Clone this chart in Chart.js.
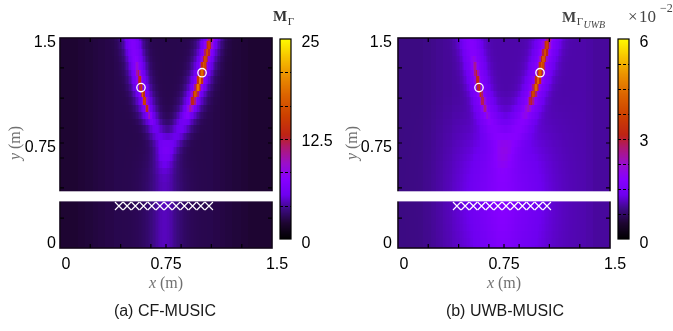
<!DOCTYPE html>
<html><head><meta charset="utf-8">
<script src="https://cdn.jsdelivr.net/npm/chart.js@4"></script>
<style>
html,body{margin:0;padding:0;background:#fff;}
#wrap{position:relative;width:673px;height:331px;overflow:hidden;background:#fff;}
#c1,#c2{position:absolute;top:0;}
#c1{left:0;} #c2{left:337px;}
</style></head><body>
<div id="wrap"><canvas id="c1" width="336" height="331"></canvas><canvas id="c2" width="336" height="331"></canvas></div>
<script>
// ---------- data ----------
const rowY = [1.5,1.45,1.4,1.35,1.3,1.25,1.2,1.15,1.1,1.05,1.0,0.95,0.9,0.85,0.8,0.75,0.7,0.65,0.6,0.55,0.5,0.45,0.4,0.35,0.3,0.25,0.2,0.15,0.1,0.05,0];
const colX = [0,0.05,0.1,0.15,0.2,0.25,0.3,0.35,0.4,0.45,0.5,0.55,0.6,0.65,0.7,0.75,0.8,0.85,0.9,0.95,1.0,1.05,1.1,1.15,1.2,1.25,1.3,1.35,1.4,1.45,1.5];
const axisTickLabels = [0, 0.75, 1.5];
const axisMinorTicks = [0.214, 0.429, 0.643, 0.857, 1.071, 1.286];
const beamLeftX  = [0.51,0.518,0.527,0.536,0.545,0.553,0.562,0.573,0.586,0.60,0.615,0.632,0.652,0.675,0.695,0.715,0.73,0.738,0.74,0.74,0.74,0.74,0.74,0.74,0.74,0.74,0.74,0.74,0.74,0.74,0.74];
const beamRightX = [1.065,1.053,1.041,1.029,1.017,1.005,0.99,0.975,0.958,0.942,0.922,0.90,0.877,0.853,0.828,0.80,0.775,0.755,0.745,0.74,0.74,0.74,0.74,0.74,0.74,0.74,0.74,0.74,0.74,0.74,0.74];
const wallBand = [0.333, 0.405];
const targetX = [0.573, 1.005];
const targetY = [1.146, 1.252];
const antennaX = [0.417,0.475,0.533,0.591,0.649,0.707,0.765,0.822,0.880,0.938,0.996,1.054];
const antennaY = [0.30,0.30,0.30,0.30,0.30,0.30,0.30,0.30,0.30,0.30,0.30,0.30];

// CF-MUSIC (colour scale 0..25)
const cfBackground = [2.0,2.0,2.0,2.1,2.2,2.3,2.4,2.5,2.6,2.6,2.6,2.6,2.6,2.6,2.6,2.6,2.6,2.6,2.6,2.6,2.6,2.6,2.5,2.4,2.3,2.2,2.1,2.0,2.0,2.0,2.0];
const cfLeftGlow  = [4.4,4.4,4.4,4.4,4.4,4.4,4.4,4.3,4.1,3.9,3.7,3.5,3.2,2.9,2.6,2.2,1.8,1.4,1.0,0.7,0.5,0.4,0.4,0.4,0.4,0.4,0.4,0.4,0.4,0.4,0.4];
const cfRightGlow = [4.6,4.6,4.6,4.6,4.6,4.6,4.6,4.5,4.3,4.1,3.9,3.7,3.4,3.1,2.7,2.3,1.9,1.4,1.0,0.7,0.5,0.4,0.4,0.4,0.4,0.4,0.4,0.4,0.4,0.4,0.4];
const cfLeftCore  = [0,0,0,0.5,2,5,7,8,11,10,7,4,1,0,0,0,0,0,0,0,0,0,0,0,0,0,0,0,0,0,0];
const cfRightCore = [5,8,9,9,10,11,13,12,10,7,4,1,0,0,0,0,0,0,0,0,0,0,0,0,0,0,0,0,0,0,0];
const cfCentreGlow = [0,0,0,0,0,0,0,0,0,0,0,0,0,0,0.1,0.3,0.5,0.7,0.9,1.1,1.2,1.3,1.3,1.3,1.3,1.3,1.3,1.3,1.3,1.3,1.3];
const cfBarTicks = [0, 12.5, 25];
const cfBarMinor = [4.17, 8.33, 12.5, 16.67, 20.83];

// UWB-MUSIC (colour scale 0..6, x10^-2)
const uwbBackground = [0.9,0.9,0.9,0.9,0.92,0.94,0.96,0.98,1.0,1.0,1.0,1.02,1.04,1.05,1.05,1.05,1.05,1.05,1.05,1.05,1.05,1.05,1.05,1.05,1.05,1.05,1.05,1.03,1.0,1.0,1.0];
const uwbLeftGlow  = [0.72,0.72,0.72,0.72,0.72,0.72,0.72,0.7,0.67,0.63,0.59,0.55,0.5,0.45,0.4,0.35,0.29,0.23,0.17,0.12,0.1,0.08,0.08,0.08,0.08,0.08,0.08,0.08,0.08,0.08,0.08];
const uwbRightGlow = [0.78,0.78,0.78,0.78,0.78,0.78,0.78,0.76,0.73,0.7,0.66,0.62,0.57,0.51,0.45,0.38,0.31,0.24,0.18,0.13,0.1,0.08,0.08,0.08,0.08,0.08,0.08,0.08,0.08,0.08,0.08];
const uwbLeftCore  = [0,0,0,0.3,0.8,1.3,1.6,1.7,1.6,1.3,0.9,0.4,0.1,0,0,0,0,0,0,0,0,0,0,0,0,0,0,0,0,0,0];
const uwbRightCore = [1.0,1.8,2.2,2.3,2.3,2.4,2.6,2.5,2.0,1.3,0.6,0.2,0,0,0,0,0,0,0,0,0,0,0,0,0,0,0,0,0,0,0];
const uwbCentreGlow = [0,0,0,0,0,0,0,0,0.02,0.05,0.1,0.15,0.2,0.25,0.3,0.35,0.4,0.45,0.5,0.52,0.55,0.57,0.58,0.58,0.58,0.57,0.55,0.53,0.5,0.48,0.45];
const uwbBarTicks = [0, 3, 6];
const uwbBarMinor = [0.75, 1.5, 2.25, 3, 3.75, 4.5, 5.25];

// ---------- rendering helpers ----------
const PAL = [[0,0,0,0],[0.08,30,5,50],[0.15,60,10,130],[0.22,110,0,240],[0.30,135,0,255],[0.38,155,15,200],[0.46,175,25,110],[0.52,190,35,20],[0.62,205,65,0],[0.72,220,100,0],[0.82,235,145,0],[0.90,245,190,0],[1,255,250,0]];
function palette(t){
  t = Math.max(0, Math.min(1, t));
  for (let i = 1; i < PAL.length; i++) {
    if (t <= PAL[i][0]) {
      const a = PAL[i-1], b = PAL[i], f = (t - a[0]) / (b[0] - a[0]);
      return 'rgb(' + Math.round(a[1]+(b[1]-a[1])*f) + ',' + Math.round(a[2]+(b[2]-a[2])*f) + ',' + Math.round(a[3]+(b[3]-a[3])*f) + ')';
    }
  }
  return 'rgb(255,250,0)';
}
function gauss(d, s){ return Math.exp(-d*d/(2*s*s)); }
function nearestCol(x){ let bi = 0, bd = 1e9; for (let i = 0; i < colX.length; i++){ const d = Math.abs(colX[i]-x); if (d < bd){ bd = d; bi = i; } } return bi; }
function mathLabel(ctx, italicPart, rest, size){
  ctx.font = 'italic ' + size + 'px "Liberation Serif"';
  const w1 = ctx.measureText(italicPart).width;
  ctx.font = size + 'px "Liberation Serif"';
  const w2 = ctx.measureText(rest).width;
  return {w1, w2, total: w1 + w2};
}

function panelPlugin(p){
  return {
    id: 'panel_' + p.key,
    beforeDatasetsDraw(chart){
      const ctx = chart.ctx, a = chart.chartArea, sx = chart.scales.x, sy = chart.scales.y;
      ctx.save();
      const n = rowY.length;
      for (let r = 0; r < n; r++) {
        const yTop = r === 0 ? rowY[0] : (rowY[r-1] + rowY[r]) / 2;
        const yBot = r === n - 1 ? rowY[n-1] : (rowY[r] + rowY[r+1]) / 2;
        const py0 = Math.round(sy.getPixelForValue(yTop)), py1 = Math.round(sy.getPixelForValue(yBot));
        for (let c = 0; c < 150; c++) {
          const xa = c / 100, xb = (c + 1) / 100, xc = (c + 0.5) / 100;
          const bg = p.background[nearestCol(xc)];
          const dl = xc - beamLeftX[r], dr = xc - beamRightX[r], dc = xc - 0.74;
          const v = bg + p.leftGlow[r]*gauss(dl, p.glowL) + p.leftCore[r]*gauss(dl, p.coreL)
                  + p.rightGlow[r]*gauss(dr, p.glowR) + p.rightCore[r]*gauss(dr, p.coreR)
                  + p.centreGlow[r]*gauss(dc, p.centreW);
          ctx.fillStyle = palette(v / p.max);
          const px0 = Math.round(sx.getPixelForValue(xa)), px1 = Math.round(sx.getPixelForValue(xb));
          ctx.fillRect(px0, py0, px1 - px0, py1 - py0);
        }
      }
      ctx.strokeStyle = '#12061a'; ctx.lineWidth = 1.6;
      ctx.strokeRect(a.left, a.top, a.right - a.left, a.bottom - a.top);
      ctx.lineWidth = 1.2; ctx.strokeStyle = '#000';
      ctx.beginPath();
      axisMinorTicks.concat([0.75]).forEach(t => {
        const px = sx.getPixelForValue(t), py = sy.getPixelForValue(t);
        ctx.moveTo(px, a.bottom); ctx.lineTo(px, a.bottom - 4);
        ctx.moveTo(px, a.top); ctx.lineTo(px, a.top + 4);
        ctx.moveTo(a.left, py); ctx.lineTo(a.left + 4, py);
        ctx.moveTo(a.right, py); ctx.lineTo(a.right - 4, py);
      });
      ctx.stroke();
      const b0 = sy.getPixelForValue(wallBand[1]), b1 = sy.getPixelForValue(wallBand[0]);
      ctx.fillStyle = '#fff';
      ctx.fillRect(a.left - 1.5, b0, a.right - a.left + 3, b1 - b0);
      ctx.restore();
    },
    afterDraw(chart){
      const ctx = chart.ctx, a = chart.chartArea, sx = chart.scales.x, sy = chart.scales.y;
      ctx.save();
      ctx.fillStyle = '#000'; ctx.font = '16px "Liberation Sans"';
      ctx.textBaseline = 'middle'; ctx.textAlign = 'center';
      const xdx = [6, 0, 5];
      axisTickLabels.forEach((t, i) => ctx.fillText(String(t), sx.getPixelForValue(t) + xdx[i], 265));
      ctx.textAlign = 'right';
      const ydy = [-4.5, 5, 5];
      axisTickLabels.forEach((t, i) => ctx.fillText(String(t), a.left - p.yLabGap, sy.getPixelForValue(t) + ydy[i]));
      ctx.fillStyle = '#707070'; ctx.textAlign = 'left'; ctx.textBaseline = 'alphabetic';
      let m = mathLabel(ctx, 'x', ' (m)', 16);
      let cx = (a.left + a.right) / 2 - m.total / 2;
      ctx.font = 'italic 16px "Liberation Serif"'; ctx.fillText('x', cx, 288);
      ctx.font = '16px "Liberation Serif"'; ctx.fillText(' (m)', cx + m.w1, 288);
      ctx.save();
      ctx.translate(a.left - p.yTitleGap, 143); ctx.rotate(-Math.PI / 2);
      m = mathLabel(ctx, 'y', ' (m)', 16);
      ctx.font = 'italic 16px "Liberation Serif"'; ctx.fillText('y', -m.total / 2, 5);
      ctx.font = '16px "Liberation Serif"'; ctx.fillText(' (m)', -m.total / 2 + m.w1, 5);
      ctx.restore();
      ctx.fillStyle = '#1a1a1a'; ctx.font = '16px "Liberation Sans"'; ctx.textAlign = 'center'; ctx.textBaseline = 'middle';
      ctx.fillText(p.subtitle, (a.left + a.right) / 2 + p.subDx, 312);
      const bx0 = a.right + 8, bx1 = a.right + 19, top = a.top + 1, bot = a.top + 201;
      for (let py = top; py < bot; py++) {
        ctx.fillStyle = palette((bot - py - 0.5) / (bot - top));
        ctx.fillRect(bx0, py, bx1 - bx0, 1);
      }
      ctx.strokeStyle = '#000'; ctx.lineWidth = 1;
      ctx.setLineDash([3, 2]);
      ctx.beginPath();
      p.barMinor.forEach(v => { const py = Math.round(bot - v / p.max * (bot - top)) + 0.5; ctx.moveTo(bx0, py); ctx.lineTo(bx1, py); });
      ctx.stroke();
      ctx.setLineDash([]);
      ctx.lineWidth = 1.2;
      ctx.strokeRect(bx0, top, bx1 - bx0, bot - top);
      ctx.fillStyle = '#000'; ctx.font = '16px "Liberation Sans"'; ctx.textAlign = 'left'; ctx.textBaseline = 'middle';
      const bdy = [5, 3, 4];
      p.barTicks.forEach((v, i) => ctx.fillText(String(v), bx1 + 10.5, bot - v / p.max * (bot - top) + bdy[i]));
      p.drawTitle(ctx, a);
      ctx.restore();
    }
  };
}

function makeChart(id, p, pad){
  return new Chart(document.getElementById(id), {
    type: 'scatter',
    data: { datasets: [
      { data: targetX.map((x, i) => ({x: x, y: targetY[i]})), pointStyle: 'circle', pointRadius: 4.2,
        pointBorderColor: '#ffffff', pointBackgroundColor: 'rgba(0,0,0,0)', pointBorderWidth: 1.3 },
      { data: antennaX.map((x, i) => ({x: x, y: antennaY[i]})), pointStyle: 'crossRot', pointRadius: 5.6,
        pointBorderColor: '#ffffff', pointBackgroundColor: '#ffffff', pointBorderWidth: 1.2 }
    ]},
    options: {
      responsive: false, animation: false, devicePixelRatio: 1, events: [],
      layout: { padding: pad },
      scales: { x: { type: 'linear', min: 0, max: 1.5, display: false }, y: { type: 'linear', min: 0, max: 1.5, display: false } },
      plugins: { legend: { display: false }, tooltip: { enabled: false } }
    },
    plugins: [panelPlugin(p)]
  });
}

makeChart('c1', {
  key: 'cf', max: 25, background: cfBackground, leftGlow: cfLeftGlow, rightGlow: cfRightGlow,
  leftCore: cfLeftCore, rightCore: cfRightCore, centreGlow: cfCentreGlow,
  glowL: 0.05, glowR: 0.056, coreL: 0.009, coreR: 0.014, centreW: 0.1,
  barTicks: cfBarTicks, barMinor: cfBarMinor, subtitle: '(a) CF-MUSIC', subDx: -1, yLabGap: 4, yTitleGap: 45,
  drawTitle(ctx, a){
    ctx.fillStyle = '#333'; ctx.textAlign = 'left'; ctx.textBaseline = 'alphabetic';
    const x = a.right + 1;
    ctx.font = 'bold 15px "Liberation Serif"'; ctx.fillText('M', x, 21);
    const w = ctx.measureText('M').width;
    ctx.font = '11px "Liberation Serif"'; ctx.fillText('Γ', x + w + 0.5, 25);
  }
}, {left: 60, right: 64, top: 38, bottom: 83});

makeChart('c2', {
  key: 'uwb', max: 6, background: uwbBackground, leftGlow: uwbLeftGlow, rightGlow: uwbRightGlow,
  leftCore: uwbLeftCore, rightCore: uwbRightCore, centreGlow: uwbCentreGlow,
  glowL: 0.055, glowR: 0.06, coreL: 0.010, coreR: 0.014, centreW: 0.22,
  barTicks: uwbBarTicks, barMinor: uwbBarMinor, subtitle: '(b) UWB-MUSIC', subDx: 1, yLabGap: 6, yTitleGap: 46,
  drawTitle(ctx, a){
    ctx.fillStyle = '#444'; ctx.textAlign = 'left'; ctx.textBaseline = 'alphabetic';
    let x = a.right - 48;
    ctx.font = 'bold 15px "Liberation Serif"'; ctx.fillText('M', x, 22);
    x += ctx.measureText('M').width + 0.5;
    ctx.font = '11px "Liberation Serif"'; ctx.fillText('Γ', x, 25);
    x += ctx.measureText('Γ').width + 0.5;
    ctx.font = 'italic 10px "Liberation Serif"'; ctx.fillText('UWB', x, 28);
    ctx.font = '17px "Liberation Serif"'; ctx.fillText('×', a.right + 18, 22);
    ctx.fillText('10', a.right + 29, 22);
    ctx.font = '12px "Liberation Serif"'; ctx.fillText('−2', a.right + 50, 12);
  }
}, {left: 61, right: 63, top: 38, bottom: 83});
</script>
</body></html>
